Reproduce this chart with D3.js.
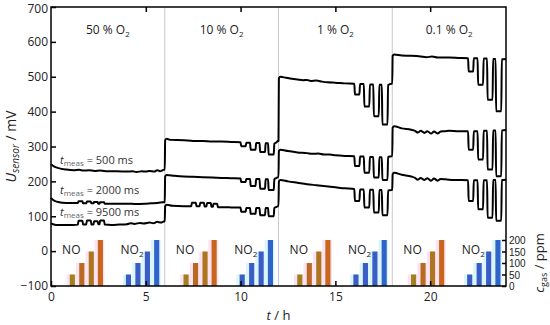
<!DOCTYPE html>
<html>
<head>
<meta charset="utf-8">
<script src="https://cdn.jsdelivr.net/npm/d3@7"></script>
<style>
body {margin:0; background:#fff;}
svg {display:block; font-family:"Open Sans", sans-serif;}
</style>
</head>
<body>
<div id="chart"></div>
<script>
//Data
const segStarts = [0, 6, 12, 18];
const segLabels = ["50 % O", "10 % O", "1 % O", "0.1 % O"];
const concs = [50, 100, 150, 200];
const noTimes = [1.12, 1.62, 2.12, 2.6];
const no2Times = [4.08, 4.58, 5.08, 5.57];
const mvTicks = [-100, 0, 100, 200, 300, 400, 500, 600, 700];
const hTicks = [0, 5, 10, 15, 20];
const ppmTicks = [0, 50, 100, 150, 200];
const tmeas = ["500", "2000", "9500"];

const line500 = [[0,249],[0.15,243],[0.4,238],[0.8,234],[1.2,232],[1.5,233],[1.7,231],[2.0,232],[2.3,230],[2.6,231],[3.0,229],[3.5,229],[4.0,228],[4.3,229],[4.5,227],[4.8,229],[5.0,228],[5.2,230],[5.45,228],[5.6,232],[5.75,229],[5.95,233],
  [6.0,233],[6.02,318],[6.1,322],[6.3,319],[7.0,318],[7.5,316],[8.0,316],[8.5,314],[9.0,314],[9.5,313],[10.0,312],
  [10.03,301],[10.27,301],[10.3,311],[10.5,311],[10.53,291],[10.79,291],[10.82,310],[11.0,310],[11.03,284],[11.29,284],[11.32,309],[11.45,309],[11.48,277],[11.75,277],[11.78,308],[11.9,312],[11.97,316],
  [12.0,316],[12.02,496],[12.1,500],[12.4,497],[13.0,492],[13.3,490],[13.5,491],[13.7,488],[14.0,489],[14.3,486],[14.6,484],[15.0,483],[15.5,481],[16.0,480],
  [16.03,449],[16.27,449],[16.3,479],[16.5,479],[16.53,415],[16.79,415],[16.82,478],[17.0,478],[17.03,387],[17.29,387],[17.32,477],[17.45,477],[17.48,363],[17.75,363],[17.78,476],[17.97,480],
  [18.0,480],[18.02,560],[18.1,564],[18.5,561],[19.0,560],[19.5,558],[19.8,556],[20.1,558],[20.4,555],[21.0,555],[21.5,554],[22.0,553],
  [22.03,515],[22.27,515],[22.3,553],[22.5,553],[22.53,477],[22.79,477],[22.82,552],[23.0,552],[23.03,434],[23.29,434],[23.32,551],[23.45,551],[23.48,401],[23.75,401],[23.78,550],[24.0,551]];

const line2000 = [[0,153],[0.1,147],[0.3,142],[0.6,139],[1.0,138],[1.42,138],[1.45,143],[1.66,143],[1.69,137],[1.86,137],[1.89,142],[2.1,142],[2.13,137],[2.24,137],[2.27,141],[2.46,141],[2.49,136],[2.56,136],[2.59,140],[2.8,140],[2.83,136],[3.2,136],[3.6,136],[4.0,136],[4.5,135],[5.0,136],[5.3,137],[5.6,138],[5.9,140],[6.0,141],
  [6.02,214],[6.1,218],[6.5,216],[7.0,214],[7.5,213],[8.0,212],[8.5,211],[9.0,210],[9.5,209],[10.0,208],
  [10.03,198],[10.27,198],[10.3,207],[10.5,207],[10.53,187],[10.79,187],[10.82,207],[11.0,207],[11.03,179],[11.29,179],[11.32,206],[11.45,206],[11.48,175],[11.75,175],[11.78,206],[11.9,210],[11.97,212],
  [12.0,212],[12.02,287],[12.1,291],[12.5,287],[13.0,283],[13.5,281],[13.8,279],[14.1,280],[14.4,277],[14.7,277],[15.0,275],[15.5,273],[16.0,272],
  [16.03,244],[16.27,244],[16.3,271],[16.5,271],[16.53,225],[16.79,225],[16.82,270],[17.0,270],[17.03,211],[17.29,211],[17.32,269],[17.45,269],[17.48,204],[17.75,204],[17.78,270],[17.97,272],
  [18.0,272],[18.02,354],[18.1,358],[18.5,352],[19.0,348],[19.2,345],[19.35,340],[19.5,345],[19.7,339],[19.85,344],[20.05,337],[20.2,343],[20.4,337],[20.55,343],[20.8,344],[21.0,345],[21.5,344],[22.0,344],
  [22.03,291],[22.27,291],[22.3,344],[22.5,344],[22.53,263],[22.79,263],[22.82,345],[23.0,345],[23.03,234],[23.29,234],[23.32,346],[23.45,346],[23.48,215],[23.75,215],[23.78,346],[24.0,347]];

const line9500 = [[0,80],[0.1,77],[0.3,75],[0.8,75],[1.2,75],[1.42,76],[1.45,87],[1.66,87],[1.69,76],[1.86,76],[1.89,88],[2.1,88],[2.13,76],[2.24,76],[2.27,86],[2.46,86],[2.49,77],[2.56,77],[2.59,88],[2.8,88],[2.83,76],[3.2,75],[3.6,76],[4.0,77],[4.2,80],[4.4,78],[4.7,81],[4.9,79],[5.2,82],[5.4,80],[5.6,84],[5.8,82],[5.95,85],
  [6.0,85],[6.02,128],[6.1,133],[6.4,130],[7.0,129],[7.4,129],[7.43,139],[7.64,139],[7.67,129],[7.84,129],[7.87,139],[8.07,139],[8.1,128],[8.2,128],[8.23,138],[8.43,138],[8.46,127],[8.54,127],[8.57,136],[8.77,136],[8.8,126],[9.2,126],[9.6,125],[10.0,125],
  [10.03,113],[10.27,113],[10.3,124],[10.5,124],[10.53,107],[10.79,107],[10.82,124],[11.0,124],[11.03,103],[11.29,103],[11.32,124],[11.45,124],[11.48,100],[11.75,100],[11.78,124],[11.9,127],[11.97,129],
  [12.0,129],[12.02,200],[12.1,204],[12.5,200],[13.0,196],[13.5,192],[14.0,189],[14.5,186],[15.0,183],[15.5,180],[16.0,178],
  [16.03,144],[16.27,144],[16.3,177],[16.5,177],[16.53,125],[16.79,125],[16.82,176],[17.0,176],[17.03,111],[17.29,111],[17.32,175],[17.45,175],[17.48,103],[17.75,103],[17.78,174],[17.97,175],
  [18.0,175],[18.02,220],[18.1,225],[18.5,219],[19.0,214],[19.2,210],[19.35,205],[19.5,210],[19.7,204],[19.85,209],[20.05,202],[20.2,208],[20.4,202],[20.55,207],[20.8,206],[21.0,205],[21.5,204],[22.0,203],
  [22.03,144],[22.27,144],[22.3,203],[22.5,203],[22.53,120],[22.79,120],[22.82,203],[23.0,203],[23.03,96],[23.29,96],[23.32,204],[23.45,204],[23.48,87],[23.75,87],[23.78,204],[24.0,205]];

//Display specifications
const W = 550, H = 325;
const margin = {top:7, right:44, bottom:39, left:51};
const noColors = ["#a3801f", "#b86a22", "#ad7520", "#c8661c"];
const no2Colors = ["#3b5cc6", "#3b5cc6", "#3b5cc6", "#2f64ca"];

const svg = d3.select("#chart").append("svg")
  .attr("width", W).attr("height", H);

const x = d3.scaleLinear().domain([0, 24]).range([margin.left, W - margin.right]);
const y = d3.scaleLinear().domain([-100, 700]).range([H - margin.bottom, margin.top]);
const yc = d3.scaleLinear().domain([0, 200]).range([H - margin.bottom, H - margin.bottom - 46]);

//Gas pulses: background steps and bars
const pulses = [];
segStarts.forEach(s => {
  noTimes.forEach((t, i) => pulses.push({t: s + t, c: concs[i], gas: "NO", i: i}));
  no2Times.forEach((t, i) => pulses.push({t: s + t, c: concs[i], gas: "NO2", i: i}));
});

svg.append("g").selectAll("rect").data(pulses).enter().append("rect")
  .attr("x", d => x(d.t - 0.3))
  .attr("width", x(0.52) - x(0))
  .attr("y", d => yc(d.c))
  .attr("height", d => yc(0) - yc(d.c))
  .attr("fill", d => d.gas == "NO" ? "#fde2f2" : "#daf6fb");

svg.append("g").selectAll("rect").data(pulses).enter().append("rect")
  .attr("x", d => x(d.t - 0.13))
  .attr("width", x(0.27) - x(0))
  .attr("y", d => yc(d.c))
  .attr("height", d => yc(0) - yc(d.c))
  .attr("fill", d => d.gas == "NO" ? noColors[d.i] : no2Colors[d.i]);

//Segment separators
svg.append("g").selectAll("line").data(segStarts.slice(1)).enter().append("line")
  .attr("x1", d => x(d)).attr("x2", d => x(d))
  .attr("y1", y(700)).attr("y2", y(-100))
  .attr("stroke", "#c8c8c8").attr("stroke-width", 1);

//Gas labels
segStarts.forEach(s => {
  svg.append("text").attr("x", x(s + 1.07)).attr("y", 254)
    .attr("text-anchor", "middle").attr("font-size", 12).attr("fill", "#222")
    .text("NO");
  const t2 = svg.append("text").attr("x", x(s + 3.67)).attr("y", 254)
    .attr("font-size", 12).attr("fill", "#222");
  t2.append("tspan").text("NO");
  t2.append("tspan").attr("dy", 3).attr("font-size", 8).text("2");
});

//O2 labels
segStarts.forEach((s, i) => {
  const t = svg.append("text").attr("x", x(s + 3)).attr("y", 34)
    .attr("text-anchor", "middle").attr("font-size", 12).attr("fill", "#222");
  t.append("tspan").text(segLabels[i]);
  t.append("tspan").attr("dy", 3).attr("font-size", 8).text("2");
});

//Sensor curves
const line = d3.line()
  .x(d => x(d[0]))
  .y(d => y(d[1]))
  .curve(d3.curveMonotoneX);

svg.append("g").selectAll("path").data([line500, line2000, line9500]).enter().append("path")
  .attr("fill", "none")
  .attr("stroke", "#000")
  .attr("stroke-width", 2)
  .attr("stroke-linejoin", "round")
  .attr("d", d => line(d));

//t_meas labels
const tmY = [164, 194, 216];
tmeas.forEach((v, i) => {
  const t = svg.append("text").attr("x", 60).attr("y", tmY[i])
    .attr("font-size", 11).attr("fill", "#333");
  t.append("tspan").attr("font-style", "italic").text("t");
  t.append("tspan").attr("dy", 2).attr("font-size", 8).attr("fill", "#666").text("meas");
  t.append("tspan").attr("dy", -2).text(" = " + v + " ms");
});

//Axes
const axL = svg.append("g").attr("transform", "translate(" + margin.left + ",0)")
  .call(d3.axisLeft(y).tickValues(mvTicks).tickSizeInner(-5).tickSizeOuter(0).tickPadding(3)
    .tickFormat(d => d < 0 ? "\u2212" + Math.abs(d) : d));
const axB = svg.append("g").attr("transform", "translate(0," + y(-100) + ")")
  .call(d3.axisBottom(x).tickValues(hTicks).tickSizeInner(-5).tickSizeOuter(0).tickPadding(6));
const axT = svg.append("g").attr("transform", "translate(0," + y(700) + ")")
  .call(d3.axisTop(x).tickValues(hTicks.slice(1)).tickSizeInner(-5).tickSizeOuter(0).tickFormat(""));
const axR = svg.append("g").attr("transform", "translate(" + x(24) + ",0)")
  .call(d3.axisRight(yc).tickValues(ppmTicks).tickSizeInner(-4).tickSizeOuter(0).tickPadding(3));

[axL, axB, axT, axR].forEach(a => {
  a.select(".domain").remove();
  a.selectAll(".tick line").attr("stroke", "#000").attr("stroke-width", 1.5);
  a.selectAll("text").attr("font-family", "Open Sans, sans-serif").attr("fill", "#222");
});
axL.selectAll("text").attr("font-size", 12);
axL.selectAll("text").filter(d => d == 700).attr("dy", "0.42em");
axB.selectAll("text").attr("font-size", 12);
axR.selectAll("text").attr("font-family", "Liberation Sans, sans-serif")
  .attr("font-size", 10).attr("dy", "0.36em");

//Frame
svg.append("rect")
  .attr("x", x(0)).attr("y", y(700))
  .attr("width", x(24) - x(0)).attr("height", y(-100) - y(700))
  .attr("fill", "none").attr("stroke", "#000").attr("stroke-width", 1.5);

//Axis titles
const yl = svg.append("text")
  .attr("transform", "translate(16," + ((y(700) + y(-100)) / 2) + ") rotate(-90)")
  .attr("text-anchor", "middle").attr("font-size", 14).attr("fill", "#222");
yl.append("tspan").attr("font-style", "italic").text("U");
yl.append("tspan").attr("dy", 3).attr("font-size", 10).attr("font-style", "italic").text("sensor");
yl.append("tspan").attr("dy", -3).text(" / mV");

const xl = svg.append("text").attr("x", x(12)).attr("y", 320)
  .attr("text-anchor", "middle").attr("font-size", 13).attr("fill", "#222");
xl.append("tspan").attr("font-style", "italic").text("t");
xl.append("tspan").text(" / h");

const rl = svg.append("text")
  .attr("transform", "translate(544," + yc(100) + ") rotate(-90)")
  .attr("text-anchor", "middle").attr("font-size", 13).attr("fill", "#222");
rl.append("tspan").attr("font-style", "italic").text("c");
rl.append("tspan").attr("dy", 3).attr("font-size", 9).text("gas");
rl.append("tspan").attr("dy", -3).text(" / ppm");
</script>
</body>
</html>
